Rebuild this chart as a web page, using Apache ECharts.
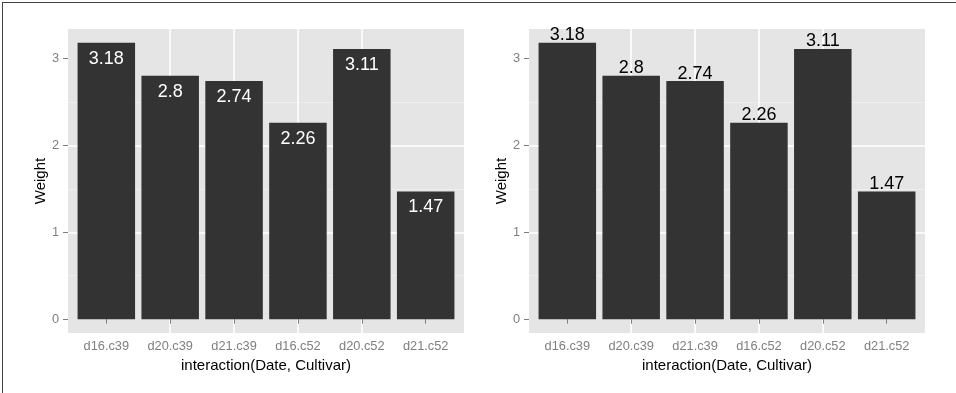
<!DOCTYPE html>
<html>
<head>
<meta charset="utf-8">
<script src="https://cdn.jsdelivr.net/npm/echarts@6/dist/echarts.min.js"></script>
<style>
html, body { margin: 0; padding: 0; background: #ffffff; overflow: hidden; }
#chart { position: absolute; left: 0; top: 0; width: 956px; height: 393px; }
#frame { position: absolute; left: 2px; top: 2px; width: 970px; height: 410px;
  border-top: 1px solid #444444; border-left: 1px solid #444444; pointer-events: none; }
</style>
</head>
<body>
<div id="chart"></div>
<div id="frame"></div>
<script>
// ---- data ----
const categories = ['d16.c39', 'd20.c39', 'd21.c39', 'd16.c52', 'd20.c52', 'd21.c52'];
const weights = [3.18, 2.80, 2.74, 2.26, 3.11, 1.47];
const yTickValues = [0, 1, 2, 3];
const xTitle = 'interaction(Date, Cultivar)';
const yTitle = 'Weight';

// ---- styling ----
const FONT = 'Liberation Sans, Arial, Helvetica, sans-serif';
const positions = categories.map((c, i) => i + 1);
const barData = weights.map((w, i) => [positions[i], w]);

function makeX(gridIndex) {
  return {
    type: 'value', gridIndex: gridIndex,
    min: 0.4, max: 6.6, splitNumber: 6,
    axisLine: { show: false },
    axisTick: { show: true, customValues: positions, length: 4.5, lineStyle: { color: '#7f7f7f', width: 1 } },
    axisLabel: {
      show: true, customValues: positions, margin: 7,
      color: '#7f7f7f', fontSize: 12.8, fontFamily: FONT,
      formatter: function (v) { return Number.isInteger(v) ? categories[v - 1] : ''; }
    },
    splitLine: { show: true, showMinLine: false, showMaxLine: false, lineStyle: { color: '#ffffff', width: 1.6 } },
    minorTick: { show: false },
    minorSplitLine: { show: false },
    name: xTitle, nameLocation: 'middle', nameGap: 21,
    nameTextStyle: { color: '#000000', fontSize: 15, fontFamily: FONT }
  };
}

function makeY(gridIndex) {
  return {
    type: 'value', gridIndex: gridIndex,
    min: -0.159, max: 3.339, splitNumber: 3,
    axisLine: { show: false },
    axisTick: { show: true, customValues: yTickValues, length: 5, lineStyle: { color: '#7f7f7f', width: 1 } },
    axisLabel: {
      show: true, customValues: yTickValues, margin: 9,
      color: '#7f7f7f', fontSize: 12.8, fontFamily: FONT,
      formatter: function (v) { return Number.isInteger(v) ? String(v) : ''; }
    },
    splitLine: { show: true, showMinLine: false, showMaxLine: false, lineStyle: { color: '#ffffff', width: 1.6 } },
    minorTick: { show: false, splitNumber: 2 },
    minorSplitLine: { show: true, lineStyle: { color: '#f2f2f2', width: 0.7 } },
    name: yTitle, nameLocation: 'middle', nameGap: 19, nameRotate: 90,
    nameTextStyle: { color: '#000000', fontSize: 15, fontFamily: FONT }
  };
}

const chart = echarts.init(document.getElementById('chart'), null, { renderer: 'canvas' });
chart.setOption({
  animation: false,
  backgroundColor: '#ffffff',
  textStyle: { fontFamily: FONT },
  grid: [
    { left: 68, top: 29, width: 396, height: 304, show: true, backgroundColor: '#e5e5e5', borderWidth: 0, containLabel: false, outerBoundsMode: 'none' },
    { left: 529, top: 29, width: 396, height: 304, show: true, backgroundColor: '#e5e5e5', borderWidth: 0, containLabel: false, outerBoundsMode: 'none' }
  ],
  xAxis: [makeX(0), makeX(1)],
  yAxis: [makeY(0), makeY(1)],
  series: [
    {
      type: 'bar', xAxisIndex: 0, yAxisIndex: 0, data: barData,
      barWidth: 57.5,
      itemStyle: { color: '#333333' },
      label: {
        show: true, position: 'insideTop', distance: 7,
        color: '#ffffff', fontSize: 18, fontFamily: FONT,
        formatter: function (p) { return String(p.value[1]); }
      }
    },
    {
      type: 'bar', xAxisIndex: 1, yAxisIndex: 1, data: barData,
      barWidth: 57.5,
      itemStyle: { color: '#333333' },
      label: {
        show: true, position: 'top', distance: -1.5,
        color: '#000000', fontSize: 18, fontFamily: FONT,
        formatter: function (p) { return String(p.value[1]); }
      }
    }
  ]
});
</script>
</body>
</html>
